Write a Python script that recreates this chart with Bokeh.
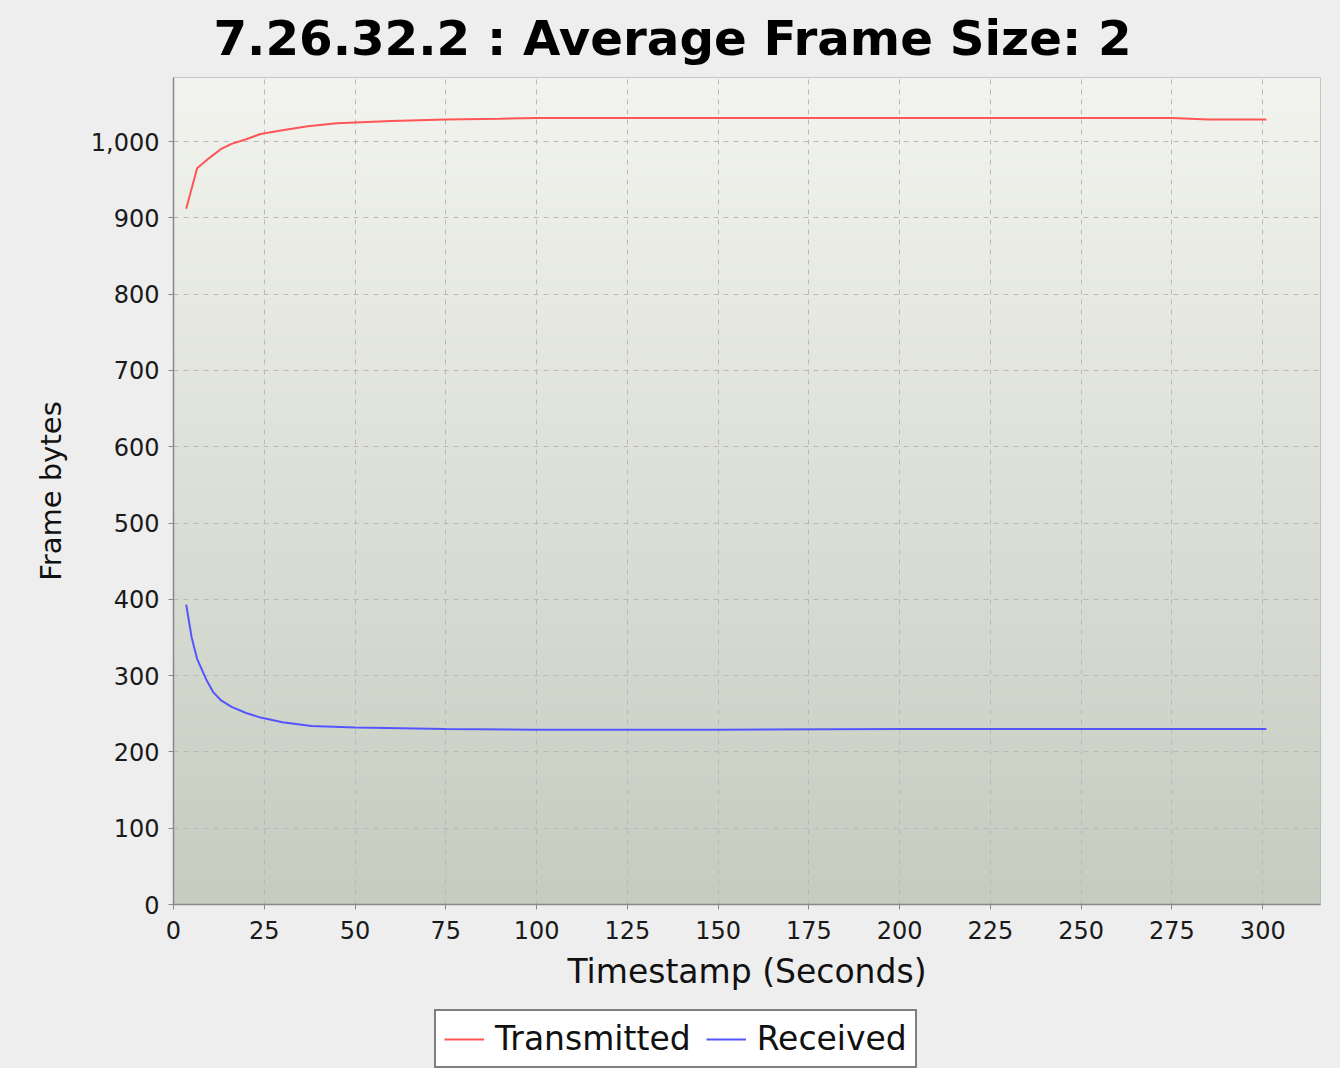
import numpy as np
from bokeh.plotting import figure
from bokeh.layouts import column
from bokeh.models import (Range1d, Legend, LegendItem, FixedTicker,
                          NumeralTickFormatter)
from bokeh.embed import file_html
from bokeh.resources import INLINE

# ---------------- data ----------------
title_text = "7.26.32.2 : Average Frame Size: 2"
x_label = "Timestamp (Seconds)"
y_label = "Frame bytes"
series_names = ["Transmitted", "Received"]
series_colors = ["#FF5555", "#5555FF"]

tx_time = [3.5, 6.5, 10, 13, 16, 20, 24, 30, 37, 45, 50, 60, 75, 90, 100,
           125, 150, 175, 200, 225, 250, 275, 285, 301]
tx_bytes = [912, 965, 979, 990, 997, 1003, 1010, 1015, 1020, 1024, 1025, 1027,
            1029, 1030, 1031, 1031, 1031, 1031, 1031, 1031, 1031, 1031, 1029, 1029]

rx_time = [3.5, 5, 6.5, 9, 11, 13, 16, 20, 24, 30, 38, 50, 75, 100, 125, 150,
           200, 250, 275, 301]
rx_bytes = [393, 350, 322, 295, 278, 268, 259, 251, 245, 239, 234, 232, 230,
            229, 229, 229, 230, 230, 230, 230]

x_ticks = [0, 25, 50, 75, 100, 125, 150, 175, 200, 225, 250, 275, 300]
y_ticks = [0, 100, 200, 300, 400, 500, 600, 700, 800, 900, 1000]

X_MAX = 315.9
Y_MAX = 1084

FONT = "DejaVu Sans"
BG = "#EEEEEE"

p = figure(frame_width=1147, frame_height=827, output_backend="svg",
           toolbar_location=None,
           x_range=Range1d(0, X_MAX), y_range=Range1d(0, Y_MAX),
           min_border_left=173, min_border_right=20, min_border_top=77,
           min_border_bottom=96, border_fill_color=BG,
           background_fill_color="#DDE1D7", outline_line_color="#B8B8B8",
           title=title_text)

# title
p.title.text_font = FONT
p.title.text_font_size = "48.3px"
p.title.text_font_style = "bold"
p.title.text_color = "#000000"
p.title.align = "left"
p.title.offset = 40
p.title.standoff = 19
p.title.vertical_align = "top"

# gradient background of the plot area (style only)
ny = 512
top_c = np.array([243, 244, 239], dtype=float)
bot_c = np.array([198, 204, 192], dtype=float)
frac = np.linspace(0.0, 1.0, ny)[:, None]
cols = bot_c + (top_c - bot_c) * frac
img = np.zeros((ny, 1), dtype=np.uint32)
view = img.view(dtype=np.uint8).reshape((ny, 1, 4))
view[:, 0, 0] = cols[:, 0].astype(np.uint8)
view[:, 0, 1] = cols[:, 1].astype(np.uint8)
view[:, 0, 2] = cols[:, 2].astype(np.uint8)
view[:, 0, 3] = 255
p.image_rgba(image=[img], x=0, y=0, dw=X_MAX, dh=Y_MAX, level="image")

# grid
for g, t in ((p.xgrid, x_ticks), (p.ygrid, y_ticks)):
    g.ticker = FixedTicker(ticks=t)
    g.grid_line_color = "#B9B9B9"
    g.grid_line_dash = "5 5"
    g.grid_line_width = 1

# axes
p.xaxis.ticker = FixedTicker(ticks=x_ticks)
p.yaxis.ticker = FixedTicker(ticks=y_ticks)
p.yaxis.formatter = NumeralTickFormatter(format="0,0")
for ax in (p.xaxis[0], p.yaxis[0]):
    ax.axis_line_color = "#888888"
    ax.axis_line_width = 1.5
    ax.major_tick_line_color = "#888888"
    ax.major_tick_in = 0
    ax.major_tick_out = 5
    ax.minor_tick_line_color = None
    ax.major_label_text_font = FONT
    ax.major_label_text_font_size = "24px"
    ax.major_label_text_color = "#1A1A1A"
    ax.axis_label_text_font = FONT
    ax.axis_label_text_font_style = "normal"
    ax.axis_label_text_color = "#111111"
p.xaxis.axis_label = x_label
p.yaxis.axis_label = y_label
p.xaxis.axis_label_text_font_size = "33px"
p.yaxis.axis_label_text_font_size = "29px"
p.xaxis.major_label_standoff = 11
p.yaxis.major_label_standoff = 9
p.xaxis.axis_label_standoff = 10
p.yaxis.axis_label_standoff = 20

# series
p.line(tx_time, tx_bytes, line_color=series_colors[0], line_width=2)
p.line(rx_time, rx_bytes, line_color=series_colors[1], line_width=2)

# legend strip under the chart (its frame is aligned with the chart frame;
# the series drawn here lie outside its ranges and only feed the legend)
leg = figure(width=1340, height=68, output_backend="svg", toolbar_location=None,
             x_range=Range1d(0, 1), y_range=Range1d(0, 1),
             x_axis_location=None, y_axis_location=None,
             min_border_left=0, min_border_right=0, min_border_top=0,
             min_border_bottom=0, border_fill_color=None,
             background_fill_color=None, outline_line_color=None)
leg.grid.visible = False
items = []
for name, col, xs, ys in zip(series_names, series_colors,
                             (tx_time, rx_time), (tx_bytes, rx_bytes)):
    r = leg.line(xs, ys, line_color=col, line_width=2)
    items.append(LegendItem(label=name, renderers=[r]))

legend = Legend(items=items, orientation="horizontal", location=(261, 0),
                margin=0, label_text_font=FONT, label_text_font_size="33px",
                label_text_color="#111111",
                glyph_width=40, glyph_height=20, label_standoff=11,
                spacing=15, padding=8, border_line_color="#000000",
                border_line_width=2, background_fill_color="#FFFFFF",
                background_fill_alpha=1.0)
leg.add_layout(legend, "center")

layout = column(p, leg, spacing=0, styles={"background-color": BG})
open("out.html", "w").write(file_html(layout, INLINE))
